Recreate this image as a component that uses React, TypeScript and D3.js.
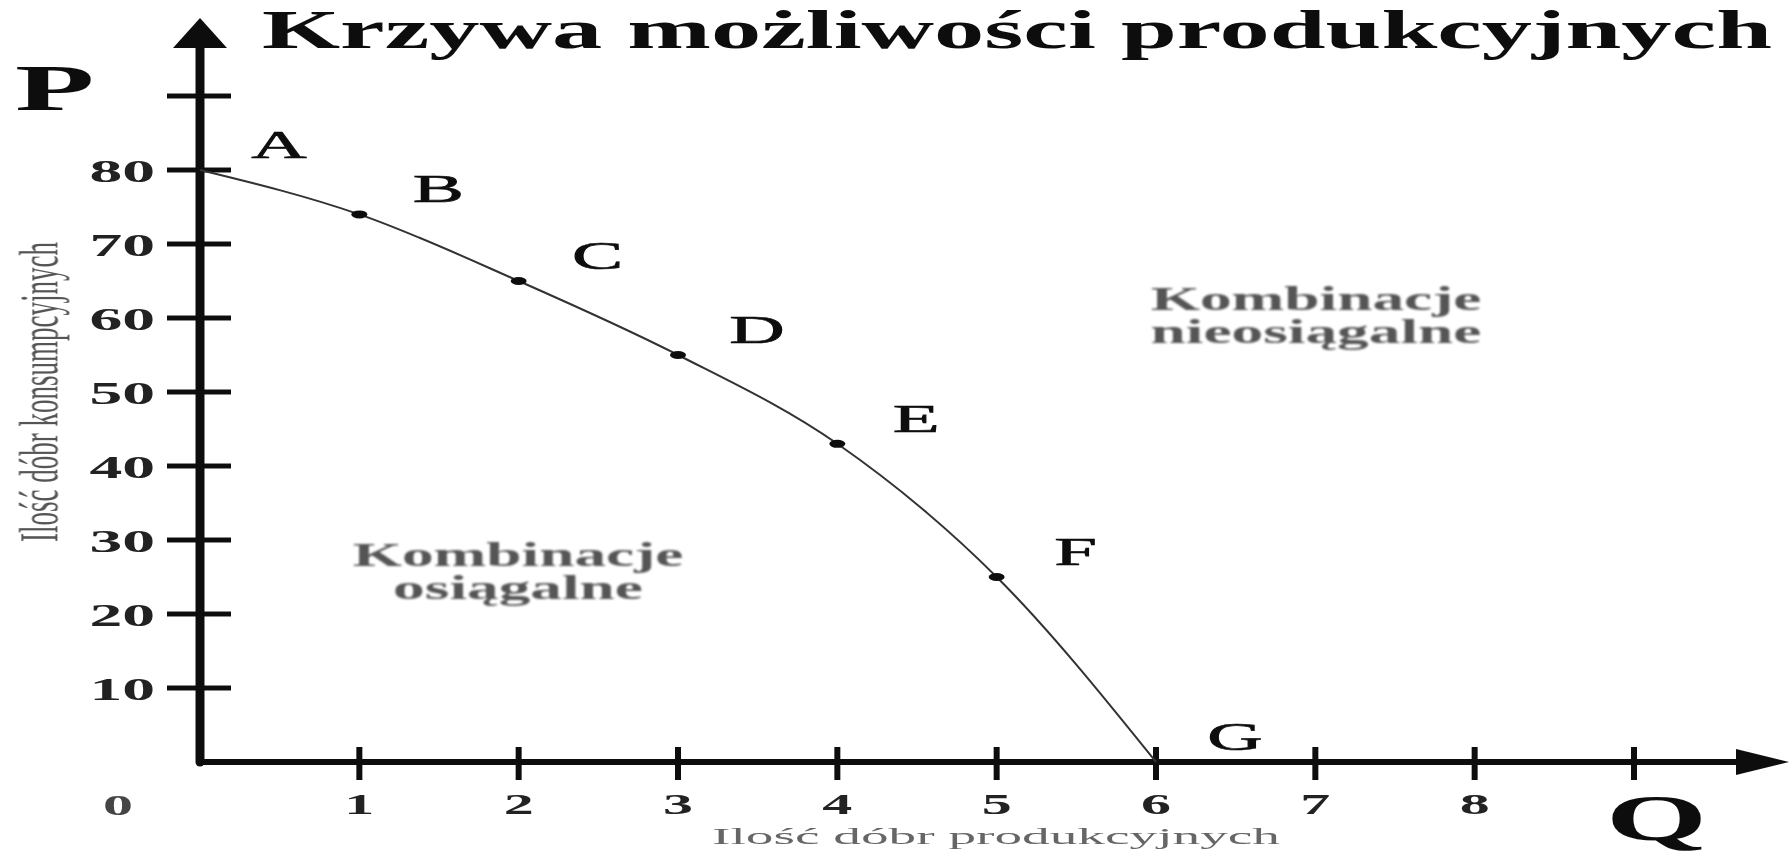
import React, { useEffect, useRef } from "react";
import * as d3 from "d3";

// axis ticks
const qTicks = [1, 2, 3, 4, 5, 6, 7, 8, 9];
const qTickLabels = ["1", "2", "3", "4", "5", "6", "7", "8", ""];
const pTicks = [10, 20, 30, 40, 50, 60, 70, 80, 90];
const pTickLabels = ["10", "20", "30", "40", "50", "60", "70", "80", ""];

// points on the curve
const pointNames = ["A", "B", "C", "D", "E", "F", "G"];
const qValues = [0, 1, 2, 3, 4, 5, 6];
const pValues = [80, 74, 65, 55, 43, 25, 0];

const title = "Krzywa możliwości produkcyjnych";
const xTitle = "Ilość dóbr produkcyjnych";
const yTitle = "Ilość dóbr konsumpcyjnych";
const reachable = ["Kombinacje", "osiągalne"];
const unreachable = ["Kombinacje", "nieosiągalne"];

const W = 1792;
const H = 856;
const SERIF = "'Liberation Serif', 'DejaVu Serif', serif";
const SX = 1.92; // the original picture is stretched sideways

const App: React.FC = () => {
  const svgRef = useRef<SVGSVGElement | null>(null);

  useEffect(() => {
    const svg = d3.select(svgRef.current);
    svg.selectAll("*").remove();

    svg.append("rect").attr("width", W).attr("height", H).attr("fill", "#fff");

    const defs = svg.append("defs");
    defs.append("filter").attr("id", "soft")
      .append("feGaussianBlur").attr("stdDeviation", 0.6);
    defs.append("filter").attr("id", "softer")
      .append("feGaussianBlur").attr("stdDeviation", 1.1);

    const x = d3.scaleLinear().domain([0, 9]).range([200, 1634]);
    const y = d3.scaleLinear().domain([0, 90]).range([762, 96]);

    const g = svg.append("g").attr("filter", "url(#soft)");

    // text squeezed into the same sideways stretch as the picture
    const wide = (parent: any, str: string, tx: number, ty: number, size: number,
      anchor = "middle", weight = "normal", fill = "#111", sx = SX) =>
      parent.append("text")
        .attr("transform", `translate(${tx},${ty}) scale(${sx},1)`)
        .attr("text-anchor", anchor)
        .attr("font-family", SERIF)
        .attr("font-size", size)
        .attr("font-weight", weight)
        .attr("fill", fill)
        .text(str);

    // title
    g.append("text")
      .attr("x", 262).attr("y", 48)
      .attr("textLength", 1510).attr("lengthAdjust", "spacingAndGlyphs")
      .attr("font-family", SERIF).attr("font-size", 55).attr("font-weight", "bold")
      .attr("fill", "#111")
      .text(title);

    // axes
    g.append("line")
      .attr("x1", x(0)).attr("x2", x(0)).attr("y1", y(0)).attr("y2", 40)
      .attr("stroke", "#111").attr("stroke-width", 9).attr("stroke-linecap", "round");
    g.append("path")
      .attr("d", `M${x(0)},18 L${x(0) - 27},48 L${x(0) + 27},48 Z`)
      .attr("fill", "#111");
    g.append("line")
      .attr("x1", x(0)).attr("x2", 1760).attr("y1", y(0)).attr("y2", y(0))
      .attr("stroke", "#111").attr("stroke-width", 6).attr("stroke-linecap", "round");
    g.append("path")
      .attr("d", `M1789,${y(0)} L1736,${y(0) - 13} L1736,${y(0) + 13} Z`)
      .attr("fill", "#111");

    // y ticks
    pTicks.forEach((v, i) => {
      g.append("line")
        .attr("x1", x(0) - 33).attr("x2", x(0) + 31)
        .attr("y1", y(v)).attr("y2", y(v))
        .attr("stroke", "#111").attr("stroke-width", 5);
      if (pTickLabels[i]) wide(g, pTickLabels[i], 155, y(v) + 11.5, 32, "end", "bold", "#222", 2.05);
    });

    // x ticks
    qTicks.forEach((v, i) => {
      g.append("line")
        .attr("x1", x(v)).attr("x2", x(v))
        .attr("y1", y(0) - 15).attr("y2", y(0) + 18)
        .attr("stroke", "#111").attr("stroke-width", 6);
      if (qTickLabels[i]) wide(g, qTickLabels[i], x(v), 814, 30, "middle", "bold", "#222", 2.0);
    });

    wide(g, "0", 118, 815, 30, "middle", "bold", "#444", 2.0);

    // axis letters
    wide(g, "P", 15, 110, 65, "start", "bold", "#111", 2.0);
    wide(g, "Q", 1606, 840, 65, "start", "bold", "#111", 2.0);

    // axis titles
    g.append("text")
      .attr("x", 712).attr("y", 844)
      .attr("textLength", 568).attr("lengthAdjust", "spacingAndGlyphs")
      .attr("font-family", SERIF).attr("font-size", 23)
      .attr("fill", "#666")
      .text(xTitle);

    g.append("text")
      .attr("transform", `translate(38,392) scale(1.9,1) rotate(-90)`)
      .attr("text-anchor", "middle")
      .attr("dy", "0.35em")
      .attr("textLength", 300).attr("lengthAdjust", "spacingAndGlyphs")
      .attr("font-family", SERIF).attr("font-size", 29)
      .attr("fill", "#555")
      .text(yTitle);

    // curve
    const pts = qValues.map((q, i) => ({ name: pointNames[i], q, p: pValues[i] }));
    const line = d3.line<{ q: number; p: number }>()
      .x((d) => x(d.q))
      .y((d) => y(d.p))
      .curve(d3.curveMonotoneX);
    g.append("path")
      .attr("d", line(pts))
      .attr("fill", "none")
      .attr("stroke", "#333")
      .attr("stroke-width", 2);

    pts.slice(1, -1).forEach((d) => {
      g.append("ellipse")
        .attr("cx", x(d.q)).attr("cy", y(d.p))
        .attr("rx", 8).attr("ry", 4)
        .attr("fill", "#111");
    });

    pts.forEach((d) => {
      wide(g, d.name, x(d.q) + 79, y(d.p) - 12, 40, "middle", "normal", "#111")
        .attr("stroke", "#111").attr("stroke-width", 0.7);
    });

    // region notes
    const notes = svg.append("g").attr("filter", "url(#softer)");
    reachable.forEach((s, i) => {
      wide(notes, s, 518, 566 + i * 33, 33, "middle", "bold", "#555");
    });
    unreachable.forEach((s, i) => {
      wide(notes, s, 1316, 310 + i * 33, 33, "middle", "bold", "#555");
    });
  }, []);

  return (
    <svg
      ref={svgRef}
      width={W}
      height={H}
      style={{ position: "absolute", left: 0, top: 0, display: "block" }}
    />
  );
};

export default App;
